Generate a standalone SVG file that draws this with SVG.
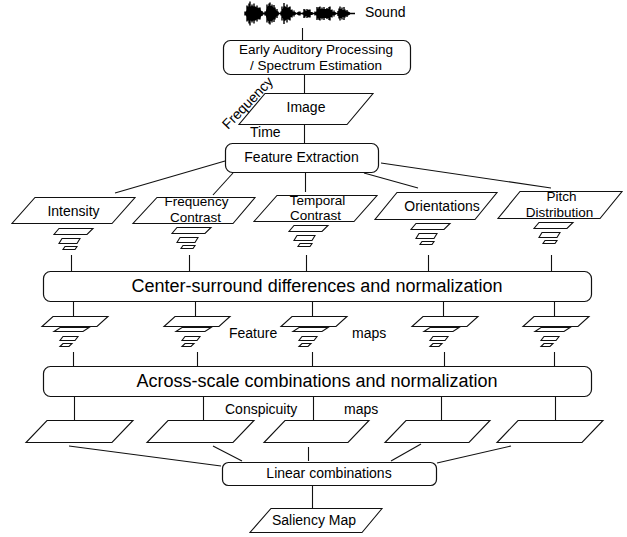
<svg xmlns="http://www.w3.org/2000/svg" xmlns:xlink="http://www.w3.org/1999/xlink" width="627" height="537" viewBox="0 0 627 537">
<style>
.ln{stroke:#111;stroke-width:1.1;fill:none}
.box{fill:#fff;stroke:#111;stroke-width:1.2}
.para{fill:#fff;stroke:#111;stroke-width:1.1}
.t{font-family:"Liberation Sans",Arial,sans-serif;font-size:14px;fill:#000;text-anchor:middle}
.t2{font-size:13.5px}
.s{text-anchor:start}
.big{font-size:18px}
</style>
<defs>
<g id="stackA">
<polygon class="para" points="-12,0.5 22,0.5 16,6.5 -17,6.5"/>
<polygon class="para" points="-9,10.5 9,10.5 6,15.5 -12,15.5"/>
<polygon class="para" points="-6,18.5 6,18.5 4,21.5 -8,21.5"/>
</g>
<g id="stackB">
<polygon class="para" points="-20,0.5 35,0.5 24,10.5 -31,10.5"/>
<polygon class="para" points="-13,11.5 16,11.5 10,15.5 -19,15.5"/>
<polygon class="para" points="-10,20.5 5,20.5 2,24.5 -13,24.5"/>
<polygon class="para" points="-10,27.5 -1,27.5 -4,30.5 -13,30.5"/>
</g>
</defs>
<rect width="627" height="537" fill="#fff"/>

<g id="connectors">
<path class="ln" d="M302.5 28V40"/>
<path class="ln" d="M304.5 74V93"/>
<path class="ln" d="M304.5 124V143"/>
<path class="ln" d="M225 161L115 193"/>
<path class="ln" d="M233 173L213 195"/>
<path class="ln" d="M305.5 172V192"/>
<path class="ln" d="M364 173L418 188"/>
<path class="ln" d="M381 163L551 188"/>
<path class="ln" d="M71.5 255V271M189.5 255V271M306.5 255V271M428.5 255V271M551.5 255V271"/>
<path class="ln" d="M73.5 301V316M195.5 301V316M312.5 301V316M443.5 301V316M554.5 301V316"/>
<path class="ln" d="M73.5 352V366M197.5 352V366M312.5 352V366M444.5 352V366M554.5 352V366"/>
<path class="ln" d="M74.5 396V420M203.5 396V420M313.5 396V420M441.5 396V420M555.5 396V420"/>
<path class="ln" d="M69 446L221 466"/>
<path class="ln" d="M213 446L242 461"/>
<path class="ln" d="M308.5 447V461"/>
<path class="ln" d="M421 444L391 461"/>
<path class="ln" d="M511 446L437 463"/>
<path class="ln" d="M312.5 485V508"/>
</g>

<g id="sound">
<path d="M245 13.5H355" stroke="#000" stroke-width="1.3"/>
<polygon fill="#000" points="245,13.5 248,8 252,6 256,7 260,9 263,13 265,13 268,6 272,6 276,10 279,13 281,13 284,6 288,8 292,11 295,13 303,13 305,11 309,11 312,13 315,13 319,9 324,9 329,9 333,12 336,13 338,13 341,10 344,10 349,12.5 352,13.5 349,14.5 344,17 341,17 338,14 336,14 333,15 329,18 324,18 319,18 315,14 312,14 309,16 305,16 303,14 295,14 292,16 288,19 284,21 281,14 279,14 276,17 272,21 268,21 265,14 263,14 260,18 256,20 252,21 248,19"/>
<path stroke="#000" stroke-width="1.4" fill="none" d="M245 11.5V15.5M246 11.5V15.5M247 5.5V21.5M248 6.5V20.5M249 3.5V23.5M250 1.5V25.5M251 6.5V20.5M252 4.5V22.5M253 8.5V18.5M254 3.5V23.5M255 6.5V20.5M256 10.5V16.5M257 5.5V21.5M258 8.5V18.5M259 7.5V19.5M260 7.5V19.5M261 11.5V15.5M262 11V16M263 12.5V14.5M265 11.5V15.5M266 11.5V15.5M267 4.5V22.5M268 6.5V20.5M269 3.5V23.5M270 2.5V24.5M271 6.5V20.5M272 4.5V22.5M273 9.5V17.5M274 5V22M275 7.5V19.5M276 11.5V15.5M277 9V18M278 11.5V15.5M281 11.5V15.5M282 6.5V20.5M283 9V18M284 3V24M285 6.5V20.5M286 10V17M287 4.5V22.5M288 8V19M289 7V20M290 6.5V20.5M291 10V17M292 9.5V17.5M293 12V15M294 10.5V16.5M295 12V15M298 12V15M299 11.5V15.5M300 11.5V15.5M303 12.5V14.5M304 9V18M305 9.5V17.5M306 11.5V15.5M307 9V18M308 10V17M309 9.5V17.5M310 9.5V17.5M311 12V15M312 12V15M315 11.5V15.5M316 12V15M317 7V20M318 8.5V18.5M319 7V20M320 6.5V20.5M321 9V18M322 7.5V19.5M323 11V16M324 7V20M325 9.5V17.5M326 12V15M327 8V19M328 9.5V17.5M329 7V20M330 6.5V20.5M331 10V17M332 9.5V17.5M333 12V15M334 10.5V16.5M335 12V15M338 11V16M339 8.5V18.5M340 6.5V20.5M341 9V18M342 7.5V19.5M343 11V16M344 7V20M345 9.5V17.5M346 12V15M347 10V17M348 11.5V15.5M349 12V15"/>
<text class="t s" x="365" y="17">Sound</text>
</g>

<g id="early-auditory">
<rect class="box" x="223.5" y="40.5" width="187" height="34" rx="7"/>
<text class="t t2" x="316" y="54">Early Auditory Processing</text>
<text class="t t2" x="316" y="69.5">/ Spectrum Estimation</text>
</g>

<g id="image">
<polygon class="para" points="265,93.5 373,93.5 347,124.5 239,124.5"/>
<text class="t" x="306" y="112">Image</text>
<text class="t s" transform="translate(228,130) rotate(-46)">Frequency</text>
<text class="t s" x="250" y="137">Time</text>
</g>

<g id="feature-extraction">
<rect class="box" x="225.5" y="143.5" width="153" height="29" rx="7"/>
<text class="t" x="301.5" y="162">Feature Extraction</text>
</g>

<g id="intensity">
<polygon class="para" points="35,197.5 135,197.5 112,223.5 12,223.5"/>
<text class="t" x="73.5" y="216">Intensity</text>
<use xlink:href="#stackA" x="71" y="228"/>
</g>

<g id="frequency-contrast">
<polygon class="para" points="157,197.5 255,197.5 233,223.5 133,223.5"/>
<text class="t t2" x="196.5" y="206">Frequency</text>
<text class="t t2" x="195.5" y="221.5">Contrast</text>
<use xlink:href="#stackA" x="189" y="227"/>
</g>

<g id="temporal-contrast">
<polygon class="para" points="277,195.5 377,195.5 354,221.5 254,221.5"/>
<text class="t t2" x="317.5" y="204.5">Temporal</text>
<text class="t t2" x="315.5" y="220">Contrast</text>
<use xlink:href="#stackA" x="306" y="225"/>
</g>

<g id="orientations">
<polygon class="para" points="397,192.5 497,192.5 475,219.5 375,219.5"/>
<text class="t" x="442" y="211">Orientations</text>
<use xlink:href="#stackA" x="428" y="223"/>
</g>

<g id="pitch-distribution">
<polygon class="para" points="520,191.5 622,191.5 600,218.5 498,218.5"/>
<text class="t t2" x="561.5" y="201">Pitch</text>
<text class="t t2" x="559.5" y="216.5">Distribution</text>
<use xlink:href="#stackA" x="551" y="222"/>
</g>

<g id="center-surround">
<rect class="box" x="43.5" y="271.5" width="548" height="30" rx="7"/>
<text class="t big" x="317" y="292">Center-surround differences and normalization</text>
</g>

<g id="feature-maps">
<use xlink:href="#stackB" x="73" y="316"/>
<use xlink:href="#stackB" x="195" y="316"/>
<use xlink:href="#stackB" x="312" y="316"/>
<use xlink:href="#stackB" x="443" y="316"/>
<use xlink:href="#stackB" x="554" y="316"/>
<text class="t s" x="229" y="338">Feature</text>
<text class="t s" x="352" y="338">maps</text>
</g>

<g id="across-scale">
<rect class="box" x="43.5" y="366.5" width="548" height="30" rx="7"/>
<text class="t big" x="317" y="387">Across-scale combinations and normalization</text>
</g>

<g id="conspicuity-maps">
<polygon class="para" points="47,420.5 133,420.5 112,442.5 26,442.5"/>
<polygon class="para" points="168,420.5 254,420.5 233,442.5 147,442.5"/>
<polygon class="para" points="285,420.5 369,420.5 348,442.5 264,442.5"/>
<polygon class="para" points="406,420.5 490,420.5 469,442.5 385,442.5"/>
<polygon class="para" points="518,420.5 603,420.5 582,442.5 497,442.5"/>
<text class="t s" x="225" y="414">Conspicuity</text>
<text class="t s" x="344" y="414">maps</text>
</g>

<g id="linear-combinations">
<rect class="box" x="222.5" y="462.5" width="214" height="23" rx="6"/>
<text class="t" x="329" y="478">Linear combinations</text>
</g>

<g id="saliency-map">
<polygon class="para" points="271,508.5 382,508.5 362,532.5 250,532.5"/>
<text class="t" x="314" y="525">Saliency Map</text>
</g>
</svg>
